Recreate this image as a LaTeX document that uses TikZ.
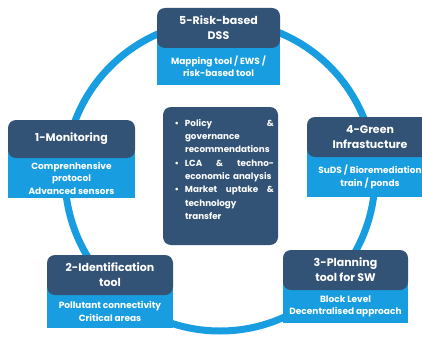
\documentclass[tikz,border=0pt]{standalone}
\usepackage{fontspec}
\setmainfont{Poppins}
\usetikzlibrary{positioning}
\definecolor{RingBlue}{RGB}{24,158,224}
\definecolor{SlateNavy}{RGB}{50,82,118}

\tikzset{
	stagetitle/.style={
		fill=SlateNavy,
		rounded corners=8pt,
		text=white,
		align=center,
		minimum height=40pt,
		inner sep=2pt,
		outer sep=0pt,
		font=\fontsize{11}{15}\selectfont\bfseries
	},
	stagedetail/.style={
		fill=RingBlue,
		text=white,
		align=center,
		anchor=north,
		inner sep=2pt,
		outer sep=0pt,
		font=\fontsize{9}{12.5}\selectfont\bfseries
	},
	hubbox/.style={
		fill=SlateNavy,
		rounded corners=8pt,
		text=white,
		align=left,
		text width=107pt,
		minimum height=138pt,
		inner xsep=4pt,
		outer sep=0pt,
		font=\fontsize{8.8}{13.3}\selectfont\bfseries
	}
}
\newcommand{\hubitem}{\leavevmode\llap{\textbullet\hspace{6pt}}}

\begin{document}
\begin{tikzpicture}[x=1pt,y=1pt,node distance=0pt]
				
				\useasboundingbox (0,0) rectangle (422,338);
				\clip (0,0) rectangle (422,338);
				
				% the cycle ring behind all boxes
				\draw[
				RingBlue,
				line width=7pt
				]
				(220,162) circle [radius=155pt];
				
				% light detail boxes
				\node[
				stagedetail,
				minimum width=123pt,
				minimum height=37pt
				]
				(D5) at (218.5,290)
				{Mapping tool / EWS /\\risk-based tool};
				
				\node[
				stagedetail,
				minimum width=127pt,
				minimum height=40pt
				]
				(D1) at (71.5,180)
				{Comprenhensive\\protocol\\Advanced sensors};
				
				\node[
				stagedetail,
				minimum width=126pt,
				minimum height=40pt
				]
				(D4) at (370,181)
				{SuDS / Bioremediation\\train / ponds};
				
				\node[
				stagedetail,
				minimum width=126pt,
				minimum height=33pt
				]
				(D2) at (110,43)
				{Pollutant connectivity\\Critical areas};
				
				\node[
				stagedetail,
				minimum width=125pt,
				minimum height=33pt
				]
				(D3) at (345.5,48)
				{Block Level\\Decentralised approach};
				
				% fill under the rounded title corners
				\foreach \d in {D1,D2,D3,D4,D5}
				\fill[RingBlue] (\d.north west) rectangle ([yshift=12pt]\d.north east);
				
				% stage titles
				\node[
				stagetitle,
				minimum width=123pt,
				above=of D5
				]
				(T5)
				{5-Risk-based\\DSS};
				
				\node[
				stagetitle,
				minimum width=127pt,
				minimum height=38pt,
				above=of D1
				]
				(T1)
				{1-Monitoring};
				
				\node[
				stagetitle,
				minimum width=126pt,
				above=of D4
				]
				(T4)
				{4-Green\\Infrastucture};
				
				\node[
				stagetitle,
				minimum width=126pt,
				above=of D2
				]
				(T2)
				{2-Identification\\tool};
				
				\node[
				stagetitle,
				minimum width=125pt,
				above=of D3
				]
				(T3)
				{3-Planning\\tool for SW};
				
				% outcomes in the middle
				\node[
				hubbox,
				minimum width=115pt
				]
				(HUB) at (220.5,162)
				{\parindent=0pt\leftskip=18pt
					\hubitem Policy\hfill\&\\
					governance\\
					recommendations\\
					\hubitem LCA\hfill\&\hfill techno-\\
					economic analysis\\
					\hubitem Market\hfill uptake\hfill\&\\
					technology\\
					transfer\\
					\mbox{}};
				
			\end{tikzpicture}
\end{document}
